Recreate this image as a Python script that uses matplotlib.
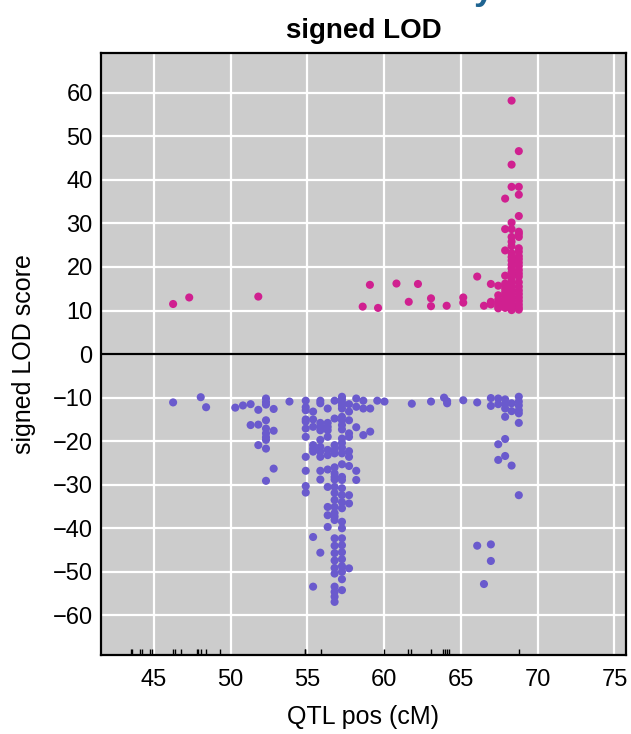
import numpy as np
import matplotlib.pyplot as plt

plt.rcParams['font.family'] = ['Liberation Sans', 'DejaVu Sans']

# QTL positions (cM) with the signed LOD of every QTL found there
pos_cols = [46.25, 47.3, 51.8, 58.6, 59.07, 59.6, 60.8, 61.6, 62.2, 63.05,
            64.07, 65.15, 66.06, 66.5, 66.95, 67.43, 67.88, 68.3, 68.77]
pos_lod = [
    [11.5],
    [13.0],
    [13.2],
    [10.9],
    [15.9],
    [10.6],
    [16.2],
    [12.0],
    [16.1],
    [12.8, 11.0],
    [11.1],
    [13.0, 11.8],
    [17.8],
    [11.1],
    [16.1, 12.0, 11.4],
    [15.7, 13.5, 12.5, 11.8, 11.0, 10.5],
    [35.7, 28.7, 23.8, 18.0, 16.2, 15.0, 14.2, 13.5, 12.8, 12.0, 11.3, 10.6],
    [58.2, 43.5, 38.4, 30.2, 28.7, 26.9, 25.8, 24.8, 23.2, 22.3, 21.5, 20.5, 19.7,
     18.8, 18.0, 17.1, 16.3, 15.5, 14.7, 13.9, 13.1, 12.3, 11.5, 10.8, 10.1],
    [46.6, 38.4, 36.6, 31.7, 28.1, 27.6, 26.9, 24.3, 23.5, 22.5, 21.8, 21.0, 20.2,
     19.3, 18.5, 17.8, 16.5, 15.5, 14.6, 13.8, 13.0, 12.2, 11.4, 10.7, 10.2],
]

neg_cols = [46.25, 48.05, 48.4, 50.3, 50.8, 51.3, 51.8, 52.3, 52.8, 53.83,
            54.89, 55.37, 55.84, 56.32, 56.77, 57.25, 57.71, 58.18, 58.64, 59.09,
            59.55, 60.02, 61.8, 63.05, 63.9, 64.1, 65.15, 66.06, 66.5, 66.95,
            67.43, 67.88, 68.3, 68.77]
neg_lod = [
    [-11.1],
    [-9.9],
    [-12.2],
    [-12.3],
    [-11.8],
    [-11.5, -16.3],
    [-12.8, -16.2, -20.9],
    [-10.2, -11.0, -11.6, -15.2, -17.1, -18.2, -19.1, -19.7, -21.7, -29.1],
    [-12.6, -17.6, -26.3],
    [-10.9],
    [-10.7, -12.2, -12.9, -15.0, -15.5, -17.1, -19.0, -23.6, -26.8, -30.3, -31.8],
    [-13.2, -15.0, -16.7, -20.9, -21.7, -22.4, -42.0, -53.4],
    [-10.7, -11.3, -15.8, -16.7, -17.5, -19.7, -21.3, -22.4, -23.6, -26.8, -28.8, -45.6],
    [-12.5, -15.8, -16.7, -17.5, -19.0, -22.0, -23.2, -26.5, -30.5, -35.1, -37.0, -39.7],
    [-10.7, -14.8, -20.9, -22.0, -22.8, -26.0, -27.4, -28.2, -28.8, -30.5, -31.9, -33.5,
     -35.1, -36.5, -37.3, -38.1, -42.3, -44.0, -45.7, -47.4, -49.1, -50.4, -53.4,
     -54.6, -55.7, -56.9],
    [-9.8, -10.4, -11.1, -11.8, -12.5, -14.4, -15.2, -16.3, -17.3, -19.4, -20.4, -21.5,
     -22.8, -25.3, -28.2, -28.9, -30.8, -32.4, -34.0, -35.4, -38.5, -40.0, -42.3,
     -43.9, -45.5, -47.1, -48.7, -50.0, -51.7, -54.2],
    [-11.5, -13.2, -15.2, -18.2, -19.0, -22.3, -23.6, -25.7, -32.4, -34.3, -49.2],
    [-10.2, -12.1, -16.8, -26.8, -28.9],
    [-10.7, -12.5, -18.6],
    [-12.5, -17.8],
    [-10.7],
    [-10.9],
    [-11.4],
    [-10.9],
    [-10.0],
    [-10.8, -11.3],
    [-10.6],
    [-11.1, -44.0],
    [-52.8],
    [-10.1, -11.9, -43.7, -47.5],
    [-10.2, -11.5, -20.7, -24.3],
    [-10.4, -11.5, -12.5, -14.4, -19.5, -23.4],
    [-11.3, -13.1, -25.6],
    [-9.8, -10.9, -11.8, -12.9, -13.6, -15.8, -32.4],
]

# marker positions drawn as a rug along the x axis
markers = [43.49, 43.6, 44.09, 44.22, 44.74, 44.86, 46.22, 46.35, 46.79, 47.78,
           47.87, 48.09, 48.42, 49.32, 54.82, 54.87, 55.88, 59.99, 61.56, 61.75,
           63.02, 63.86, 63.99, 64.12, 64.22, 68.78]

xticks = [45, 50, 55, 60, 65, 70, 75]
yticks = [-60, -50, -40, -30, -20, -10, 0, 10, 20, 30, 40, 50, 60]


def flatten(cols, vals):
    xs = np.repeat(cols, [len(v) for v in vals])
    ys = np.concatenate([np.asarray(v, dtype=float) for v in vals])
    return xs, ys


px, py = flatten(pos_cols, pos_lod)
nx, ny = flatten(neg_cols, neg_lod)

fig = plt.figure(figsize=(6.31, 7.34), dpi=100)
ax = fig.add_axes([0.160, 0.1076, 0.832, 0.820])
ax.set_facecolor('#cccccc')

ax.set_xlim(41.55, 75.75)
ax.set_ylim(-69.1, 69.1)
ax.set_xticks(xticks)
ax.set_yticks(yticks)
ax.set_yticklabels([str(t).replace('-', '\u2212') for t in yticks])
ax.grid(True, color='white', lw=1.6)
ax.set_axisbelow(True)
ax.axhline(0, color='black', lw=1.6, zorder=1.5)

ax.scatter(px, py, s=34, color='#d02090', edgecolors='none', zorder=3)
ax.scatter(nx, ny, s=34, color='#6a5acd', edgecolors='none', zorder=3)

ax.vlines(markers, 0, 0.01, transform=ax.get_xaxis_transform(), color='black', lw=1.0,
          zorder=4)

for sp in ax.spines.values():
    sp.set_linewidth(1.6)
    sp.set_color('black')
ax.tick_params(length=0, labelsize=17)
ax.tick_params(axis='x', pad=10)
ax.tick_params(axis='y', pad=6)

ax.set_xlabel('QTL pos (cM)', fontsize=18, labelpad=10)
ax.set_ylabel('signed LOD score', fontsize=18, labelpad=12)
ax.set_title('signed LOD', fontsize=20, fontweight='bold', pad=11)

# tail of the page heading above the chart
fig.text(484 / 631, 1 + 1 / 734, 'y', color='#1f6491', fontsize=26, fontweight='bold',
         ha='center', va='baseline')

fig.savefig('out.png', dpi=100)
